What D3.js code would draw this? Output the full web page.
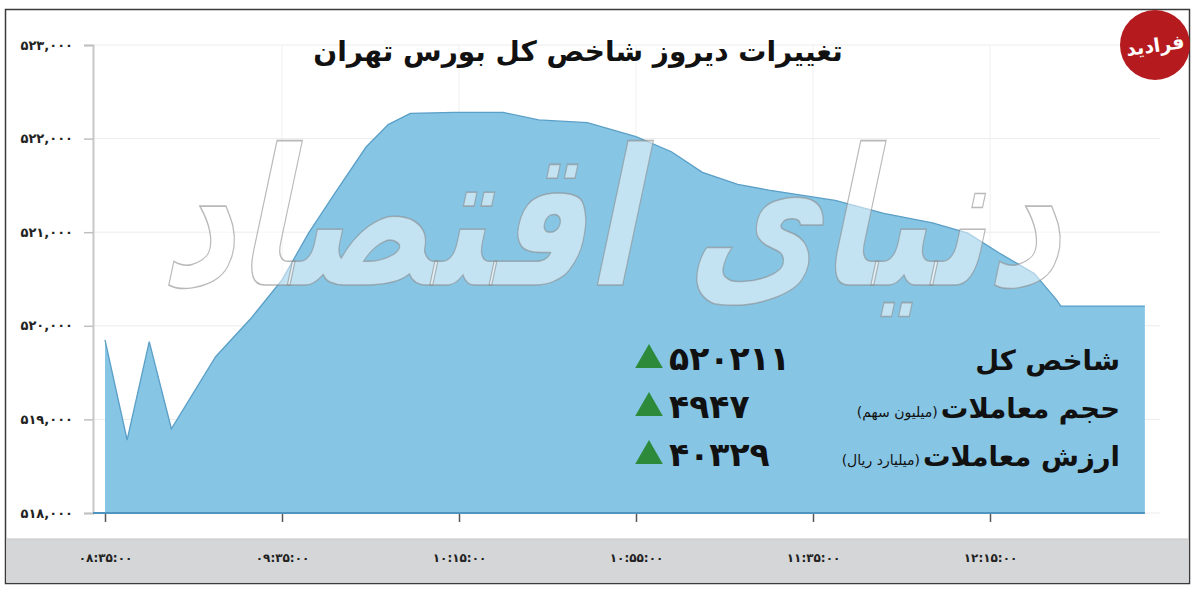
<!DOCTYPE html>
<html>
<head>
<meta charset="utf-8">
<script src="https://cdn.jsdelivr.net/npm/d3@7"></script>
<style>
  html, body { margin: 0; padding: 0; background: #ffffff; }
  svg { display: block; }
  text { font-family: "DejaVu Sans", sans-serif; }
</style>
</head>
<body>
<svg id="chart" width="1200" height="596"></svg>
<script>
// ---------------- DATA ----------------
const times = ["08:55","09:00","09:05","09:10","09:20","09:28","09:35","09:41","09:47","09:54",
               "09:59","10:04","10:14","10:25","10:33","10:44","10:55","11:03","11:10","11:18",
               "11:25","11:40","11:51","12:02","12:10","12:17","12:25","12:30","12:31","12:50"];
const values = [519850,518780,519830,518900,519670,520080,520490,520990,521420,521910,
                522150,522270,522280,522280,522200,522170,522020,521860,521640,521510,
                521450,521340,521200,521100,520990,520780,520560,520280,520211,520211];

const yTicks = [518000,519000,520000,521000,522000,523000];
const yTickLabels = ["۵۱۸,۰۰۰","۵۱۹,۰۰۰","۵۲۰,۰۰۰","۵۲۱,۰۰۰","۵۲۲,۰۰۰","۵۲۳,۰۰۰"];
const xTickTimes = ["08:55","09:35","10:15","10:55","11:35","12:15"];
const xTickLabels = ["۰۸:۳۵:۰۰","۰۹:۳۵:۰۰","۱۰:۱۵:۰۰","۱۰:۵۵:۰۰","۱۱:۳۵:۰۰","۱۲:۱۵:۰۰"];

const title = "تغییرات دیروز شاخص کل بورس تهران";
const legendLabels = ["شاخص کل","حجم معاملات","ارزش معاملات"];
const legendUnits = ["","(میلیون سهم)","(میلیارد ریال)"];
const legendValues = ["۵۲۰۲۱۱","۴۹۴۷","۴۰۳۲۹"];
const watermark = "دنیای اقتصاد";
const logoText = "فرادید";

// ---------------- CHART ----------------
const svg = d3.select("#chart");
const parse = d3.timeParse("%H:%M");
const data = times.map((t, i) => ({ t: parse(t), v: values[i] }));

const x = d3.scaleTime()
  .domain([parse(xTickTimes[0]), parse(xTickTimes[xTickTimes.length - 1])])
  .range([105, 990]);
const y = d3.scaleLinear().domain([518000, 523000]).range([513, 45]);

// frame
svg.append("rect").attr("x", 5.5).attr("y", 9.5).attr("width", 1184).attr("height", 574)
  .attr("fill", "#fff").attr("stroke", "#3a3a3a").attr("stroke-width", 1.5);

// bottom grey band
svg.append("rect").attr("x", 6.5).attr("y", 539).attr("width", 1182).attr("height", 43.5)
  .attr("fill", "#d5d6d8");
svg.append("line").attr("x1", 6.5).attr("x2", 1189).attr("y1", 539).attr("y2", 539)
  .attr("stroke", "#c4c5c7").attr("stroke-width", 1);

// grid
const grid = svg.append("g");
grid.selectAll("line.h").data(yTicks).join("line")
  .attr("x1", 93).attr("x2", 1160)
  .attr("y1", d => y(d)).attr("y2", d => y(d))
  .attr("stroke", "#ececec").attr("stroke-width", 1);
grid.selectAll("line.v").data(xTickTimes.slice(1)).join("line")
  .attr("x1", d => x(parse(d))).attr("x2", d => x(parse(d)))
  .attr("y1", 45).attr("y2", 513)
  .attr("stroke", "#f0f0f0").attr("stroke-width", 1);

// area
const area = d3.area().x(d => x(d.t)).y0(y(518000)).y1(d => y(d.v)).curve(d3.curveLinear);
const line = d3.line().x(d => x(d.t)).y(d => y(d.v)).curve(d3.curveLinear);
svg.append("path").datum(data).attr("d", area).attr("fill", "#87c5e4");
svg.append("path").datum(data).attr("d", line).attr("fill", "none")
  .attr("stroke", "#5a9fc7").attr("stroke-width", 1.3);

// y axis
const yAxis = d3.axisLeft(y).tickValues(yTicks).tickSize(9)
  .tickFormat((d, i) => yTickLabels[i]);
const gy = svg.append("g").attr("transform", "translate(93,0)").call(yAxis);
gy.select(".domain").attr("stroke", "#c8c8c8").attr("stroke-width", 2);
gy.selectAll(".tick line").attr("stroke", "#c0c0c0").attr("stroke-width", 1.5);
gy.selectAll(".tick text").attr("x", -20).attr("fill", "#222")
  .attr("font-size", 13).attr("font-weight", "bold");

// x axis
const xAxis = d3.axisBottom(x).tickValues(xTickTimes.map(parse)).tickSize(9)
  .tickFormat((d, i) => xTickLabels[i]);
const gx = svg.append("g").attr("transform", "translate(0,513)").call(xAxis);
gx.select(".domain").remove();
svg.append("line").attr("x1", 93).attr("x2", x(data[data.length - 1].t))
  .attr("y1", 513).attr("y2", 513).attr("stroke", "#4f93bf").attr("stroke-width", 2);
gx.selectAll(".tick line").attr("stroke", "#555").attr("stroke-width", 1.5);
gx.selectAll(".tick text").attr("y", 45).attr("dy", "0.35em").attr("fill", "#222")
  .attr("font-size", 12).attr("font-weight", "bold");

// watermark (semi-transparent calligraphic logo of the source)
const wmG = svg.append("g");
const wm = wmG.append("text").attr("x", 0).attr("y", 0).attr("text-anchor", "middle")
  .attr("font-size", 190).attr("font-weight", "bold")
  .attr("fill", "#ffffff").attr("fill-opacity", 0.5)
  .attr("stroke", "#8a8a8a").attr("stroke-opacity", 0.6).attr("stroke-width", 1.5)
  .text(watermark);
const wmW = wm.node().getComputedTextLength();
wmG.attr("transform", `translate(610,285) skewX(-12) scale(${900 / wmW},1)`);

// title
svg.append("text").attr("x", 578).attr("y", 61).attr("text-anchor", "middle")
  .attr("font-size", 28).attr("font-weight", "bold").attr("fill", "#111")
  .text(title);

// legend
const rowY = [370, 418, 466];
const lg = svg.append("g");
const labs = lg.selectAll("text.lab").data(legendLabels).join("text")
  .attr("class", "lab")
  .attr("x", 1120).attr("y", (d, i) => rowY[i]).attr("text-anchor", "end")
  .attr("font-size", 27.5).attr("font-weight", "bold").attr("fill", "#111").text(d => d);
const labW = labs.nodes().map(n => n.getComputedTextLength());
lg.selectAll("text.unit").data(legendUnits).join("text")
  .attr("class", "unit")
  .attr("x", (d, i) => 1120 - labW[i] - 3).attr("y", (d, i) => rowY[i] - 1).attr("text-anchor", "end")
  .attr("font-size", 14).attr("fill", "#111").text(d => d);
lg.selectAll("text.val").data(legendValues).join("text")
  .attr("class", "val")
  .attr("x", 669).attr("y", (d, i) => rowY[i]).attr("text-anchor", "start")
  .attr("font-size", 33).attr("font-weight", "bold").attr("fill", "#111")
  .attr("letter-spacing", 2).text(d => d);
lg.selectAll("path.tri").data(legendValues).join("path")
  .attr("d", d3.symbol().type(d3.symbolTriangle).size(330))
  .attr("transform", (d, i) => `translate(649,${rowY[i] - 10})`)
  .attr("fill", "#2d8a3b");

// logo
const logo = svg.append("g").attr("transform", "translate(1155,45)");
logo.append("circle").attr("r", 35).attr("fill", "#b51a1f");
logo.append("text").attr("y", 7).attr("text-anchor", "middle")
  .attr("font-size", 19).attr("font-weight", "bold").attr("fill", "#fff")
  .attr("transform", "rotate(-8)").text(logoText);
</script>
</body>
</html>
